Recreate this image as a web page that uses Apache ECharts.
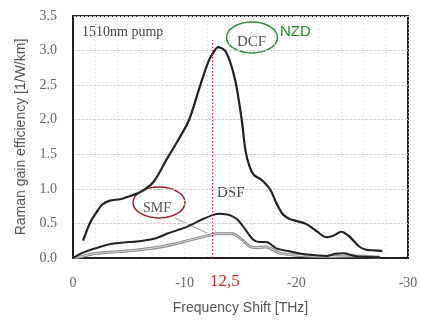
<!DOCTYPE html>
<html>
<head>
<meta charset="utf-8">
<script src="https://cdn.jsdelivr.net/npm/echarts@6/dist/echarts.min.js"></script>
<style>
  html, body { margin: 0; padding: 0; background: #fff; }
  #chart { width: 421px; height: 320px; }
</style>
</head>
<body>
<div id="chart"></div>
<script>
// frequency shift [THz] / gain efficiency [1/W/km]
const dcfX = [0.9, 1.5, 2.1, 2.6, 3.3, 4.2, 4.8, 6.0, 7.2, 8.4, 9.4, 10.4, 11.3, 12.1, 12.6, 13.0, 13.7, 14.5, 15.1, 15.45, 15.8, 16.2, 16.7, 17.2, 17.7, 18.2, 18.75, 19.3, 19.9, 20.9, 21.8, 22.7, 23.4, 24.0, 24.7, 25.6, 26.25, 27.0, 27.7];
const dcfY = [0.25, 0.5, 0.66, 0.77, 0.83, 0.85, 0.88, 0.95, 1.1, 1.43, 1.7, 2.0, 2.45, 2.83, 2.98, 3.05, 2.98, 2.59, 2.01, 1.55, 1.33, 1.2, 1.15, 1.08, 0.98, 0.8, 0.64, 0.57, 0.54, 0.49, 0.39, 0.30, 0.33, 0.38, 0.32, 0.17, 0.12, 0.11, 0.10];

const dsfX = [0, 0.8, 1.8, 3.3, 5.0, 6.25, 7.5, 8.4, 9.3, 10.2, 11.6, 12.5, 13.1, 13.8, 14.2, 14.7, 15.4, 16.1, 16.7, 17.3, 18.2, 19.6, 21.0, 22.7, 23.5, 24.2, 25.0, 25.5, 27.5];
const dsfY = [0, 0.07, 0.13, 0.2, 0.23, 0.25, 0.29, 0.35, 0.40, 0.45, 0.56, 0.62, 0.64, 0.63, 0.61, 0.56, 0.42, 0.27, 0.23, 0.23, 0.14, 0.09, 0.05, 0.03, 0.06, 0.07, 0.04, 0.02, 0.01];

const smfX = [0, 1.0, 1.8, 3.0, 4.8, 6.5, 7.8, 9.3, 10.7, 12.0, 12.9, 13.5, 14.3, 15.1, 15.8, 16.5, 17.3, 18.5, 20.0, 22.7, 25.0, 27.5];
const smfY = [0, 0.03, 0.06, 0.08, 0.10, 0.13, 0.16, 0.21, 0.27, 0.32, 0.35, 0.35, 0.35, 0.27, 0.17, 0.15, 0.16, 0.07, 0.04, 0.02, 0.03, 0.01];

const peakShift = 12.5;
const yTicks = [0, 0.5, 1.0, 1.5, 2.0, 2.5, 3.0, 3.5];

const pairs = (xs, ys) => xs.map((x, i) => [x, ys[i]]);

const chart = echarts.init(document.getElementById('chart'));

const serif = '"Liberation Serif", "DejaVu Serif", serif';
const sans = '"Liberation Sans", Arial, sans-serif';

chart.setOption({
  animation: false,
  backgroundColor: '#fff',
  grid: {
    left: 73,
    right: 13,
    top: 16,
    bottom: 61,
    show: true,
    borderColor: '#222',
    borderWidth: 2,
  },
  xAxis: {
    type: 'value',
    min: 0,
    max: 30,
    interval: 2,
    name: 'Frequency Shift [THz]',
    nameLocation: 'middle',
    nameGap: 43,
    nameTextStyle: { fontFamily: sans, fontSize: 14, color: '#555' },
    axisLine: { show: true, lineStyle: { color: '#222', width: 2 } },
    axisTick: { show: false },
    axisLabel: {
      margin: 18,
      fontFamily: serif,
      fontSize: 14,
      color: '#666',
      formatter: (v) => (v % 10 === 0 ? (v === 0 ? '0' : '-' + v) : ''),
    },
    splitLine: {
      show: true,
      lineStyle: { color: '#e2d6e2', type: [1, 3], width: 1 },
    },
  },
  yAxis: {
    type: 'value',
    min: 0,
    max: 3.5,
    interval: 0.5,
    name: 'Raman gain efficiency [1/W/km]',
    nameLocation: 'middle',
    nameGap: 44,
    nameTextStyle: { fontFamily: sans, fontSize: 14, color: '#555' },
    axisLine: { show: true, lineStyle: { color: '#222', width: 2 } },
    axisTick: { show: false },
    axisLabel: {
      margin: 16,
      fontFamily: serif,
      fontSize: 14,
      color: '#666',
      formatter: (v) => (yTicks.includes(v) ? v.toFixed(1) : ''),
    },
    splitLine: {
      show: true,
      lineStyle: { color: '#dccfdc', type: [3, 1], width: 1.2 },
    },
  },
  series: [
    {
      name: 'SMF',
      type: 'line',
      data: pairs(smfX, smfY),
      smooth: 0.3,
      showSymbol: false,
      lineStyle: { color: '#8a8a8a', width: 3 },
      z: 2,
    },
    {
      name: 'SMF inner',
      type: 'line',
      data: pairs(smfX, smfY),
      smooth: 0.3,
      showSymbol: false,
      lineStyle: { color: '#eeeeee', width: 0.8 },
      z: 3,
    },
    {
      name: 'DSF',
      type: 'line',
      data: pairs(dsfX, dsfY),
      smooth: 0.3,
      showSymbol: false,
      lineStyle: { color: '#222', width: 2 },
      z: 4,
    },
    {
      name: 'DCF',
      type: 'line',
      data: pairs(dcfX, dcfY),
      smooth: 0.3,
      showSymbol: false,
      lineStyle: { color: '#222', width: 2.2 },
      z: 5,
    },
    {
      name: 'peak',
      type: 'line',
      data: [[peakShift, 0], [peakShift, 3.15]],
      showSymbol: false,
      silent: true,
      lineStyle: { color: '#e02020', type: [1.5, 2], width: 1.2 },
      z: 6,
    },
  ],
  graphic: [
    { type: 'text', left: 82, top: 25, style: { text: '1510nm pump', font: '14px ' + serif, fill: '#444' } },
    { type: 'ellipse', shape: { cx: 252, cy: 37.5, rx: 25.5, ry: 15.5 }, style: { fill: 'none', stroke: '#2e8b3a', lineWidth: 1.5 } },
    { type: 'text', left: 237, top: 35, style: { text: 'DCF', font: '15px ' + serif, fill: '#555' } },
    { type: 'text', left: 280, top: 24, style: { text: 'NZD', font: '15px ' + sans, fill: '#1e8c1e' } },
    { type: 'text', left: 217, top: 186, style: { text: 'DSF', font: '15px ' + serif, fill: '#444' } },
    { type: 'ellipse', shape: { cx: 159, cy: 202.5, rx: 26, ry: 15.5 }, style: { fill: 'none', stroke: '#a0202a', lineWidth: 1.5 } },
    { type: 'text', left: 143, top: 201, style: { text: 'SMF', font: '14px ' + serif, fill: '#555' } },
    { type: 'line', shape: { x1: 175, y1: 218, x2: 207, y2: 233 }, style: { stroke: '#999', lineWidth: 1 } },
    { type: 'text', left: 210, top: 273, style: { text: '12,5', font: '17px ' + serif, fill: '#d42020' } },
  ],
});
</script>
</body>
</html>
